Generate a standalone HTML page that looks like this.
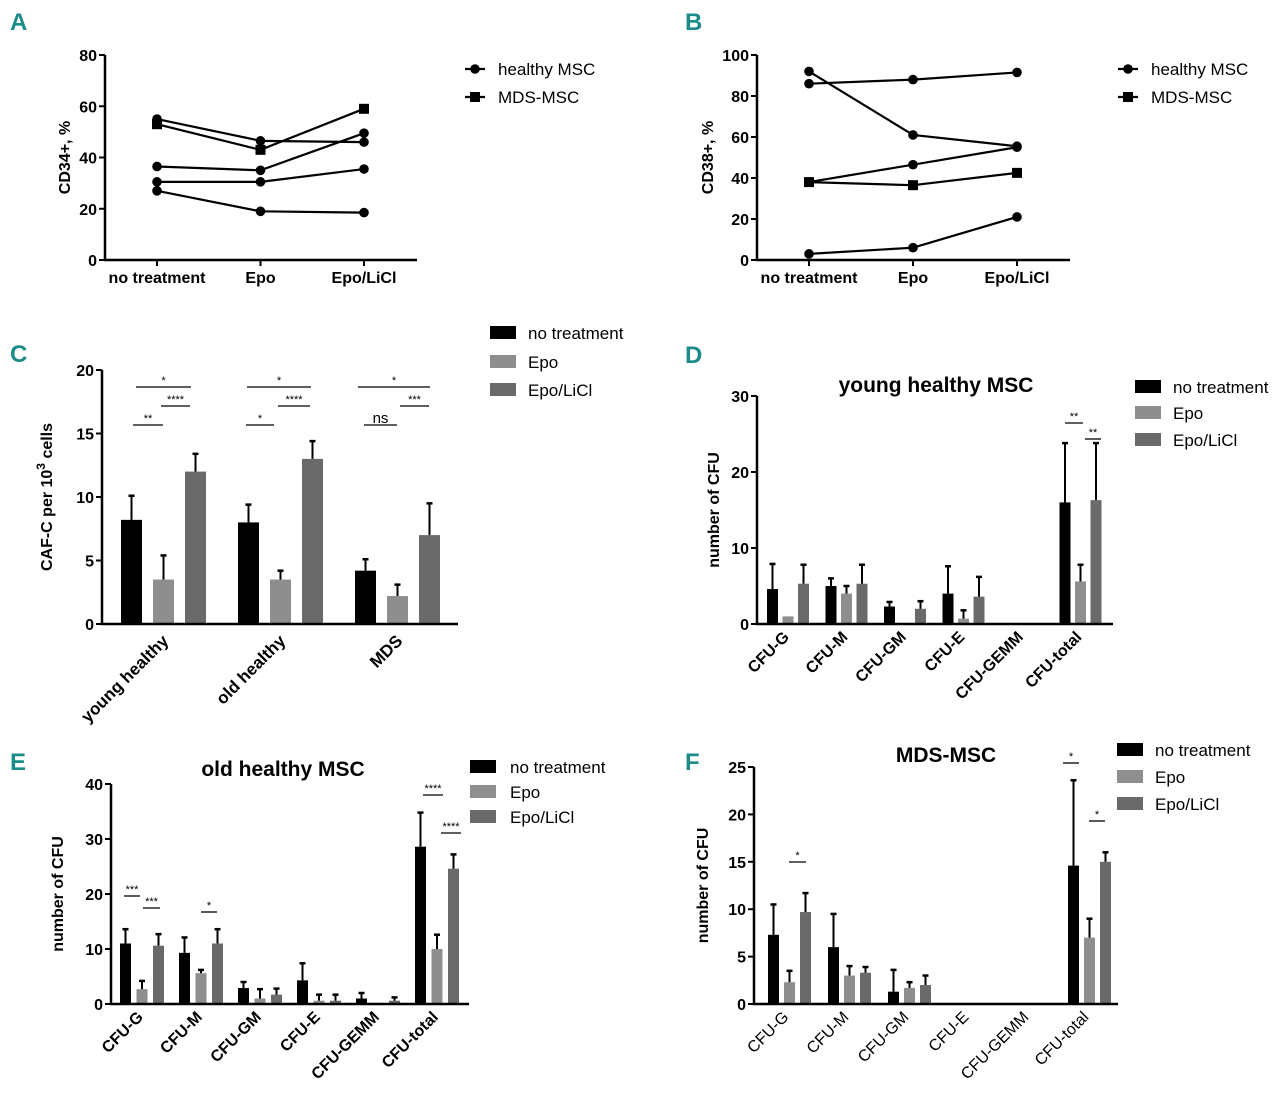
<!DOCTYPE html>
<html><head><meta charset="utf-8"><style>
body{margin:0;background:#fff;}
svg{display:block;font-family:"Liberation Sans",Arial,sans-serif;}
.pl{font-family:"Liberation Sans Narrow","Liberation Sans",sans-serif;font-weight:bold;fill:#1b8c88;font-size:24px;}
.tk{font-weight:bold;font-size:16px;fill:#000;}
.lg{font-size:17px;fill:#000;}
.yl{font-weight:bold;font-size:16px;fill:#000;}
.tt{font-weight:bold;font-size:21px;fill:#000;}
</style></head><body>
<svg id="fig" width="1280" height="1104" viewBox="0 0 1280 1104" xmlns="http://www.w3.org/2000/svg">
<text class="pl" x="10" y="30">A</text>
<text class="pl" x="685" y="30">B</text>
<text class="pl" x="10" y="362">C</text>
<text class="pl" x="685" y="363">D</text>
<text class="pl" x="10" y="770">E</text>
<text class="pl" x="685" y="770">F</text>
</svg>
<script>
// ---- Panel A data ----
const aCats = ["no treatment","Epo","Epo/LiCl"];
const aTicks = [0,20,40,60,80];
const aHealthy1 = [55,46.5,46];
const aHealthy2 = [36.5,35,49.5];
const aHealthy3 = [30.5,30.5,35.5];
const aHealthy4 = [27,19,18.5];
const aMds1 = [53,43,59];
// ---- Panel B data ----
const bCats = ["no treatment","Epo","Epo/LiCl"];
const bTicks = [0,20,40,60,80,100];
const bHealthy1 = [92,61,55.5];
const bHealthy2 = [86,88,91.5];
const bHealthy3 = [38,46.5,55];
const bHealthy4 = [3,6,21];
const bMds1 = [38,36.5,42.5];
// ---- Panel C data ----
const cCats = ["young healthy","old healthy","MDS"];
const cTicks = [0,5,10,15,20];
const cNoTreat = [8.2,8.0,4.2];
const cEpo = [3.5,3.5,2.2];
const cLicl = [12,13,7];
const cNoTreatErr = [1.9,1.4,0.9];
const cEpoErr = [1.9,0.7,0.9];
const cLiclErr = [1.4,1.4,2.5];
// ---- Panel D data ----
const cfuCats = ["CFU-G","CFU-M","CFU-GM","CFU-E","CFU-GEMM","CFU-total"];
const dTicks = [0,10,20,30];
const dNoTreat = [4.6,5,2.3,4,0,16];
const dEpo = [1,4,0,0.7,0,5.6];
const dLicl = [5.3,5.3,2,3.6,0,16.3];
const dNoTreatErr = [3.3,1,0.6,3.6,0,7.8];
const dEpoErr = [0,1,0,1.1,0,2.2];
const dLiclErr = [2.5,2.5,1,2.6,0,7.5];
// ---- Panel E data ----
const eTicks = [0,10,20,30,40];
const eNoTreat = [11,9.3,2.9,4.3,1,28.6];
const eEpo = [2.7,5.6,1,0.6,0,10];
const eLicl = [10.6,11,1.7,0.6,0.6,24.6];
const eNoTreatErr = [2.6,2.8,1.1,3.1,1,6.2];
const eEpoErr = [1.5,0.6,1.7,1.1,0,2.6];
const eLiclErr = [2.1,2.6,1.1,1.1,0.6,2.6];
// ---- Panel F data ----
const fTicks = [0,5,10,15,20,25];
const fNoTreat = [7.3,6,1.3,0,0,14.6];
const fEpo = [2.3,3,1.7,0,0,7];
const fLicl = [9.7,3.3,2,0,0,15];
const fNoTreatErr = [3.2,3.5,2.3,0,0,9];
const fEpoErr = [1.2,1,0.6,0,0,2];
const fLiclErr = [2,0.6,1,0,0,1];

const NS="http://www.w3.org/2000/svg";
const svg=document.getElementById('fig');
function mk(tag,attrs,parent,txt){const e=document.createElementNS(NS,tag);for(const k in attrs)e.setAttribute(k,attrs[k]);if(txt!==undefined)e.textContent=txt;(parent||svg).appendChild(e);return e;}
function grp(name){const g=mk('g',{});


return g;}

function yAxis(g,x0,y0,y1,ticks,max){
  const ys=v=>y0-(v/max)*(y0-y1);
  const ax=mk('line',{x1:x0,y1:y0,x2:x0,y2:y1,stroke:'#000','stroke-width':2.5},g);
  
  
  ticks.forEach(t=>{
    mk('line',{x1:x0-6,x2:x0,y1:ys(t),y2:ys(t),stroke:'#000','stroke-width':2},g);
    const tl=mk('text',{x:x0-8,y:ys(t)+6,'text-anchor':'end',class:'tk'},g,String(t));
    
    
  });
  return ys;
}
function legendBars(g,x,tx,ys,names){
  const cols=['#000','#8e8e8e','#6a6a6a'];
  names.forEach((n,i)=>{
    const r=mk('rect',{x:x,y:ys[i]-7,width:26,height:13,fill:cols[i]},g);
    
    
    const t=mk('text',{x:tx,y:ys[i]+6,class:'lg'},g,n);
    
    
  });
}
function sig(g,x1,x2,y,txt,ns){
  mk('line',{x1:x1,x2:x2,y1:y,y2:y,stroke:'#000','stroke-width':1.3},g);
  const t=mk('text',{x:(x1+x2)/2,y:ns?y-2:y-3,'text-anchor':'middle','font-size':ns?15:11,fill:'#000'},g,txt);
  
  
}
function barChart(name,cfg){
  const g=grp(name);
  const ys=yAxis(g,cfg.x0,cfg.y0,cfg.y1,cfg.ticks,cfg.max);
  const cols=['#000','#8e8e8e','#6a6a6a'];
  const series=[cfg.s0,cfg.s1,cfg.s2], errs=[cfg.e0,cfg.e1,cfg.e2];
  const xs=(i,j)=>cfg.first+i*cfg.gs+j*cfg.step;
  cfg.cats.forEach((c,i)=>{
    for(let j=0;j<3;j++){
      const v=series[j][i], e=errs[j][i], x=xs(i,j);
      if(v>0){
        const r=mk('rect',{x:x,y:ys(v),width:cfg.bw,height:cfg.y0-ys(v),fill:cols[j]},g);
        
        
        if(e>0){
          const cx=x+cfg.bw/2;
          mk('line',{x1:cx,x2:cx,y1:ys(v),y2:ys(v+e),stroke:'#000','stroke-width':2},g);
          mk('line',{x1:cx-3,x2:cx+3,y1:ys(v+e),y2:ys(v+e),stroke:'#000','stroke-width':2.5},g);
        }
      }
    }
    const cx=xs(i,1)+cfg.bw/2;
    const tl=mk('text',{x:0,y:0,'text-anchor':'end',transform:`translate(${cx+cfg.lxo},${cfg.y0+cfg.lyo}) rotate(-45)`,'font-size':cfg.lfs,'font-weight':cfg.lbold?'bold':'normal',fill:'#000'},g,c);
    
    
  });
  const xa=mk('line',{x1:cfg.x0-1,x2:cfg.xend,y1:cfg.y0,y2:cfg.y0,stroke:'#000','stroke-width':2.5},g);
  
  
  const yl=mk('text',{x:0,y:0,'text-anchor':'middle',transform:`translate(${cfg.ylx},${(cfg.y0+cfg.y1)/2}) rotate(-90)`,class:'yl','font-size':cfg.ylfs||16},g);
  
  
  if(cfg.ylsup){yl.textContent='CAF-C per 10';mk('tspan',{dy:-7,'font-size':12},yl,'3');mk('tspan',{dy:7},yl,' cells');}
  else yl.textContent=cfg.yl;
  if(cfg.title){const t=mk('text',{x:cfg.tx,y:cfg.ty,'text-anchor':'middle',class:'tt'},g,cfg.title);
    
    }
  legendBars(g,cfg.lgx,cfg.lgtx,cfg.lgy,['no treatment','Epo','Epo/LiCl']);
  return g;
}
function lineChart(name,cfg){
  const g=grp(name);
  const ys=yAxis(g,cfg.x0,cfg.y0,cfg.y1,cfg.ticks,cfg.max);
  const xa=mk('line',{x1:cfg.x0-1,x2:cfg.xend,y1:cfg.y0,y2:cfg.y0,stroke:'#000','stroke-width':2.5},g);
  
  
  const xs=i=>cfg.cx0+i*cfg.cdx;
  cfg.cats.forEach((c,i)=>{
    mk('line',{x1:xs(i),x2:xs(i),y1:cfg.y0,y2:cfg.y0+6,stroke:'#000','stroke-width':2},g);
    const t=mk('text',{x:xs(i),y:cfg.y0+23,'text-anchor':'middle',class:'tk'},g,c);
    
    
  });
  const draw=(arr,sq)=>{
    const p=mk('polyline',{points:arr.map((v,i)=>xs(i)+','+ys(v)).join(' '),fill:'none',stroke:'#000','stroke-width':2.2},g);
    
    
    arr.forEach((v,i)=>{
      let m;
      if(sq) m=mk('rect',{x:xs(i)-5,y:ys(v)-5,width:10,height:10,fill:'#000'},g);
      else m=mk('circle',{cx:xs(i),cy:ys(v),r:4.8,fill:'#000'},g);
      
      
    });
  };
  cfg.healthy.forEach(a=>draw(a,false));
  cfg.mds.forEach(a=>draw(a,true));
  const yl=mk('text',{x:0,y:0,'text-anchor':'middle',transform:`translate(${cfg.ylx},${(cfg.y0+cfg.y1)/2}) rotate(-90)`,class:'yl'},g,cfg.yl);
  
  
  const lx=cfg.lgx, ly=cfg.lgy;
  mk('line',{x1:lx-10,x2:lx+10,y1:ly,y2:ly,stroke:'#000','stroke-width':2.2},g);
  const c=mk('circle',{cx:lx,cy:ly,r:4.8,fill:'#000'},g);
  
  
  const t1=mk('text',{x:lx+23,y:ly+6,class:'lg'},g,'healthy MSC');
  
  
  mk('line',{x1:lx-10,x2:lx+10,y1:ly+28,y2:ly+28,stroke:'#000','stroke-width':2.2},g);
  const s=mk('rect',{x:lx-5,y:ly+23,width:10,height:10,fill:'#000'},g);
  
  
  const t2=mk('text',{x:lx+23,y:ly+34,class:'lg'},g,'MDS-MSC');
  
  
}

lineChart('panel-a-cd34-chart',{x0:105,y0:260,y1:55,max:80,ticks:aTicks,xend:417,cx0:157,cdx:103.5,cats:aCats,
  healthy:[aHealthy1,aHealthy2,aHealthy3,aHealthy4],mds:[aMds1],yl:'CD34+, %',ylx:70,lgx:475,lgy:69});
lineChart('panel-b-cd38-chart',{x0:757,y0:260,y1:55,max:100,ticks:bTicks,xend:1070,cx0:809,cdx:104,cats:bCats,
  healthy:[bHealthy1,bHealthy2,bHealthy3,bHealthy4],mds:[bMds1],yl:'CD38+, %',ylx:713,lgx:1128,lgy:69});

const gc=barChart('panel-c-cafc-chart',{x0:102,y0:624,y1:370,max:20,ticks:cTicks,xend:458,cats:cCats,
  s0:cNoTreat,s1:cEpo,s2:cLicl,e0:cNoTreatErr,e1:cEpoErr,e2:cLiclErr,first:121,gs:117,bw:21,step:32,
  lxo:6,lyo:18,lfs:17,lbold:true,ylsup:true,ylx:52,ylfs:18,lgx:490,lgtx:528,lgy:[333,362,390]});
sig(gc,136,191,387,'*');sig(gc,161,190,406,'****');sig(gc,133,163,425,'**');
sig(gc,247,311,387,'*');sig(gc,278,310,406,'****');sig(gc,246,274,425,'*');
sig(gc,358,430,387,'*');sig(gc,400,429,406,'***');sig(gc,364,397,425,'ns',true);

const gd=barChart('panel-d-young-healthy-chart',{x0:757,y0:624,y1:396,max:30,ticks:dTicks,xend:1113,cats:cfuCats,
  s0:dNoTreat,s1:dEpo,s2:dLicl,e0:dNoTreatErr,e1:dEpoErr,e2:dLiclErr,first:767,gs:58.5,bw:11,step:15.5,
  lxo:2,lyo:14,lfs:16,lbold:true,yl:'number of CFU',ylx:719,title:'young healthy MSC',tx:936,ty:392,
  lgx:1135,lgtx:1173,lgy:[387,413,440]});
sig(gd,1065,1083,423,'**');sig(gd,1085,1101,439,'**');

const ge=barChart('panel-e-old-healthy-chart',{x0:111,y0:1004,y1:784,max:40,ticks:eTicks,xend:469,cats:cfuCats,
  s0:eNoTreat,s1:eEpo,s2:eLicl,e0:eNoTreatErr,e1:eEpoErr,e2:eLiclErr,first:120,gs:59,bw:11,step:16.5,
  lxo:2,lyo:14,lfs:16,lbold:true,yl:'number of CFU',ylx:63,title:'old healthy MSC',tx:283,ty:776,
  lgx:470,lgtx:510,lgy:[767,792,817]});
sig(ge,124,140,896,'***');sig(ge,143,160,908,'***');sig(ge,201,217,912,'*');
sig(ge,423,443,795,'****');sig(ge,441,461,833,'****');

const gf=barChart('panel-f-mds-chart',{x0:754,y0:1004,y1:767,max:25,ticks:fTicks,xend:1118,cats:cfuCats,
  s0:fNoTreat,s1:fEpo,s2:fLicl,e0:fNoTreatErr,e1:fEpoErr,e2:fLiclErr,first:768,gs:60,bw:11,step:16,
  lxo:0,lyo:14,lfs:16,lbold:false,yl:'number of CFU',ylx:708,title:'MDS-MSC',tx:946,ty:762,
  lgx:1117,lgtx:1155,lgy:[750,777,804]});
sig(gf,789,806,862,'*');sig(gf,1063,1079,763,'*');sig(gf,1089,1105,821,'*');
</script>
</body></html>
